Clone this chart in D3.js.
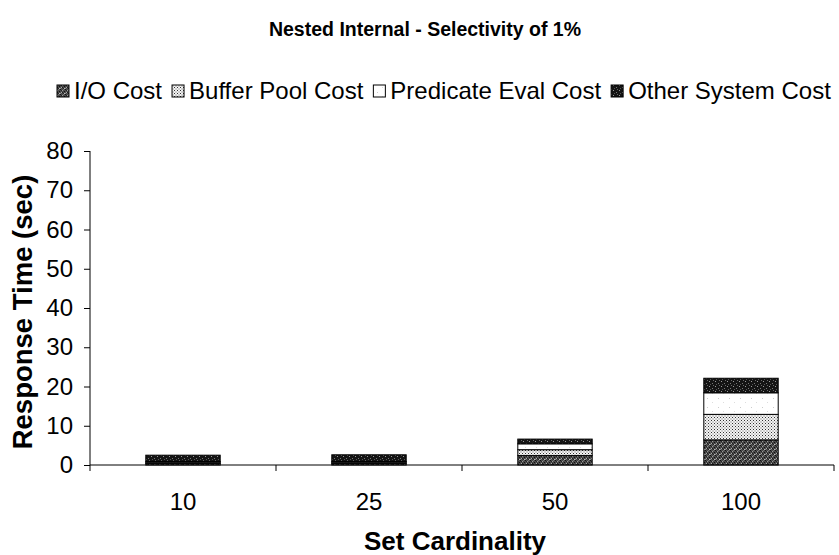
<!DOCTYPE html>
<html>
<head>
<meta charset="utf-8">
<script src="https://cdn.jsdelivr.net/npm/d3@7"></script>
<style>
  body { margin: 0; background: #fff; }
  svg { font-family: "Liberation Sans", Arial, sans-serif; }
</style>
</head>
<body>
<svg id="chart" width="839" height="555"></svg>
<script>
// Categories and stacked cost components (seconds)
const categories = ["10", "25", "50", "100"];
const seriesNames = ["I/O Cost", "Buffer Pool Cost", "Predicate Eval Cost", "Other System Cost"];
const ioCost        = [0.4, 0.4, 2.4, 6.4];
const bufferCost    = [0.3, 0.3, 1.5, 6.5];
const predicateCost = [0.2, 0.2, 1.5, 5.5];
const otherCost     = [1.6, 1.7, 1.2, 3.7];
const yTicks = [0, 10, 20, 30, 40, 50, 60, 70, 80];

const rows = categories.map((c, i) => ({
  cat: c,
  "I/O Cost": ioCost[i],
  "Buffer Pool Cost": bufferCost[i],
  "Predicate Eval Cost": predicateCost[i],
  "Other System Cost": otherCost[i]
}));

const svg = d3.select("#chart");

// Fill patterns for each cost component
const defs = svg.append("defs");
// I/O: dark grainy grey
const pIO = defs.append("pattern").attr("id", "pat0").attr("patternUnits", "userSpaceOnUse")
  .attr("width", 5).attr("height", 5);
pIO.append("rect").attr("width", 5).attr("height", 5).attr("fill", "#4a4a4a");
[[0,0,"#111"],[2,1,"#999"],[4,2,"#111"],[1,3,"#aaa"],[3,4,"#222"],[0,4,"#888"],[3,0,"#777"],[2,3,"#1a1a1a"],[4,4,"#bbb"],[1,1,"#222"]]
  .forEach(([x, y, c]) => pIO.append("rect").attr("x", x).attr("y", y).attr("width", 1).attr("height", 1).attr("fill", c));
// Buffer pool: fine dot screen
const pBuf = defs.append("pattern").attr("id", "pat1").attr("patternUnits", "userSpaceOnUse")
  .attr("width", 3).attr("height", 3);
pBuf.append("rect").attr("width", 3).attr("height", 3).attr("fill", "#f4f4f4");
pBuf.append("rect").attr("x", 0).attr("y", 0).attr("width", 1).attr("height", 1).attr("fill", "#333");
pBuf.append("rect").attr("x", 1.5).attr("y", 1.5).attr("width", 1).attr("height", 1).attr("fill", "#666");
// Predicate eval: white with sparse specks
const pPred = defs.append("pattern").attr("id", "pat2").attr("patternUnits", "userSpaceOnUse")
  .attr("width", 11).attr("height", 9);
pPred.append("rect").attr("width", 11).attr("height", 9).attr("fill", "#ffffff");
pPred.append("rect").attr("x", 3).attr("y", 2).attr("width", 1).attr("height", 1).attr("fill", "#ccc");
pPred.append("rect").attr("x", 8).attr("y", 6).attr("width", 1).attr("height", 1).attr("fill", "#ddd");
// Other system: black with light specks
const pOth = defs.append("pattern").attr("id", "pat3").attr("patternUnits", "userSpaceOnUse")
  .attr("width", 6).attr("height", 5);
pOth.append("rect").attr("width", 6).attr("height", 5).attr("fill", "#141414");
[[1,1,"#999"],[4,3,"#777"],[2,4,"#555"],[5,0,"#666"]]
  .forEach(([x, y, c]) => pOth.append("rect").attr("x", x).attr("y", y).attr("width", 1).attr("height", 1).attr("fill", c));

const fills = ["url(#pat0)", "url(#pat1)", "url(#pat2)", "url(#pat3)"];

const x = d3.scaleBand().domain(categories).range([90, 834]).paddingInner(0).paddingOuter(0);
const y = d3.scaleLinear().domain([0, 80]).range([465, 151]);

const layers = d3.stack().keys(seriesNames)(rows);
const barW = x.bandwidth() * 0.4;

svg.append("g").selectAll("g").data(layers).join("g")
  .attr("fill", (d, i) => fills[i])
  .selectAll("rect").data(d => d).join("rect")
  .attr("x", d => x(d.data.cat) + (x.bandwidth() - barW) / 2)
  .attr("y", d => y(d[1]))
  .attr("width", barW)
  .attr("height", d => y(d[0]) - y(d[1]))
  .attr("stroke", "#000")
  .attr("stroke-width", 1);

// Y axis
const yAxis = svg.append("g").attr("transform", "translate(90,0)")
  .call(d3.axisLeft(y).tickValues(yTicks).tickSize(6).tickPadding(11).tickFormat(d3.format("d")));
yAxis.selectAll("text").attr("font-size", 24).attr("fill", "#000")
  .attr("font-family", "Liberation Sans, Arial, sans-serif");
yAxis.selectAll("line, path").attr("stroke", "#000");
yAxis.select("path").attr("d", "M0,151V465");

// X axis: ticks at band boundaries, labels at band centres
const xg = svg.append("g").attr("transform", "translate(0,465)");
xg.append("line").attr("x1", 90).attr("x2", 834).attr("stroke", "#000");
const bounds = categories.map(c => x(c)).concat([x(categories[categories.length - 1]) + x.bandwidth()]);
xg.selectAll("line.tk").data(bounds).join("line").attr("class", "tk")
  .attr("x1", d => d).attr("x2", d => d).attr("y1", 0).attr("y2", 6).attr("stroke", "#000");
xg.selectAll("text").data(categories).join("text")
  .attr("x", d => x(d) + x.bandwidth() / 2).attr("y", 45)
  .attr("text-anchor", "middle").attr("font-size", 24).text(d => d);

// Titles
svg.append("text").attr("x", 425).attr("y", 36).attr("text-anchor", "middle")
  .attr("font-weight", "bold").attr("font-size", 19.5).text("Nested Internal - Selectivity of 1%");
svg.append("text").attr("x", 455).attr("y", 550).attr("text-anchor", "middle")
  .attr("font-weight", "bold").attr("font-size", 26).text("Set Cardinality");
svg.append("text").attr("transform", "translate(32,312) rotate(-90)").attr("text-anchor", "middle")
  .attr("font-weight", "bold").attr("font-size", 27.5).text("Response Time (sec)");

// Legend laid out in one row
const legend = svg.append("g").attr("transform", "translate(0,99)");
let cx = 57;
seriesNames.forEach((name, i) => {
  legend.append("rect").attr("x", cx).attr("y", -14).attr("width", 12).attr("height", 12)
    .attr("fill", fills[i]).attr("stroke", "#000").attr("stroke-width", 1);
  const t = legend.append("text").attr("x", cx + 17).attr("y", 0).attr("font-size", 24).text(name);
  cx += 17 + t.node().getComputedTextLength() + 10;
});
</script>
</body>
</html>
